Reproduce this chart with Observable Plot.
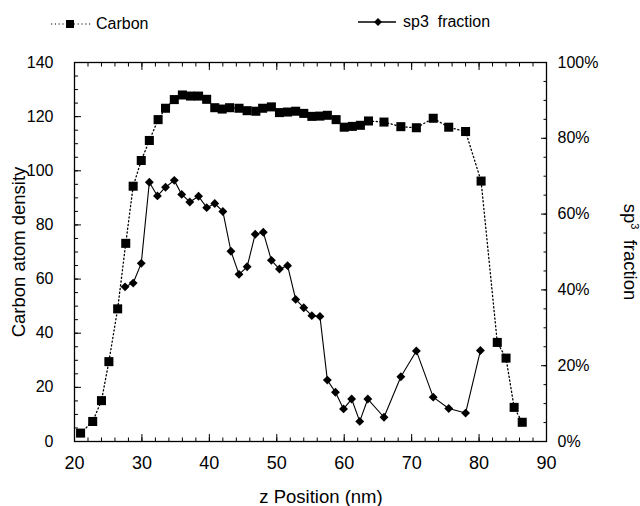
<!DOCTYPE html>
<html>
<head>
<meta charset="utf-8">
<script src="https://cdn.jsdelivr.net/npm/d3@7"></script>
<script src="https://cdn.jsdelivr.net/npm/@observablehq/plot@0.6"></script>
<style>
  html, body { margin: 0; padding: 0; background: #fff; }
  #wrap { position: relative; width: 640px; height: 506px; font-family: "Liberation Sans", Arial, sans-serif; color: #000; }
  .lab { position: absolute; white-space: nowrap; line-height: 1; }
  .leg { position: absolute; display: flex; align-items: center; white-space: nowrap; font-size: 16px; }
</style>
</head>
<body>
<div id="wrap"></div>
<script>
// ---- data ----
const carbonZ = [20.9,22.7,24.0,25.1,26.4,27.6,28.7,29.9,31.1,32.4,33.5,34.8,36.0,37.2,38.4,39.6,40.8,41.9,43.0,44.4,45.6,46.9,47.9,49.2,50.4,51.6,52.8,54.0,55.2,56.4,57.5,58.8,60.0,61.2,62.4,63.6,65.9,68.4,70.7,73.2,75.5,78.0,80.3,82.7,84.0,85.2,86.4];
const carbonDensity = [3.1,7.4,15.1,29.5,49.0,73.2,94.3,103.8,111.2,118.9,123.1,126.3,128.0,127.6,127.6,126.4,123.3,122.8,123.3,123.1,122.2,122.0,123.1,123.6,121.5,121.7,122.0,121.2,120.1,120.2,120.5,118.9,116.1,116.4,116.8,118.4,118.0,116.3,115.9,119.4,116.1,114.5,96.2,36.6,30.8,12.6,7.1];
const sp3Z = [27.5,28.7,29.9,31.1,32.3,33.5,34.8,35.9,37.1,38.4,39.6,40.8,42.0,43.2,44.4,45.6,46.8,48.0,49.2,50.4,51.6,52.8,54.0,55.2,56.4,57.5,58.7,59.9,61.1,62.3,63.5,65.9,68.4,70.7,73.2,75.5,78.0,80.2];
const sp3Pct = [40.8,41.8,47.0,68.4,64.8,67.1,68.9,65.2,63.2,64.7,61.7,62.8,60.7,50.2,44.1,46.1,54.7,55.2,47.8,45.5,46.4,37.5,35.3,33.2,33.0,16.2,13.0,8.6,11.2,5.3,11.2,6.4,17.1,23.9,11.7,8.7,7.5,24.0];

const xTickLabels = [20,30,40,50,60,70,80,90];
const yTickLabels = [0,20,40,60,80,100,120,140];
const pctTickLabels = [0,20,40,60,80,100];

// secondary axis: 100% maps onto density 140
const PCT_TO_Y = 140 / 100;

const carbon = carbonZ.map((z, i) => ({z, v: carbonDensity[i]}));
const sp3 = sp3Z.map((z, i) => ({z, v: sp3Pct[i] * PCT_TO_Y}));

const xMinor = d3.range(20, 90.01, 2);
const yMinor = d3.range(0, 140.01, 5);
const pctMinor = d3.range(0, 100.01, 5).map(p => p * PCT_TO_Y);
const pctMajor = pctTickLabels.map(p => p * PCT_TO_Y);

const plot = Plot.plot({
  width: 640,
  height: 506,
  marginLeft: 74,
  marginRight: 94,
  marginTop: 62,
  marginBottom: 65,
  style: {fontFamily: "'Liberation Sans', Arial, sans-serif", fontSize: "16px", color: "#000", background: "#fff", overflow: "visible"},
  x: {domain: [20, 90], axis: null},
  y: {domain: [0, 140], axis: null},
  marks: [
    // bottom axis labels + inward ticks
    Plot.axisX({anchor: "bottom", ticks: xTickLabels, tickSize: 0, tickPadding: 15, fontSize: 18, label: null}),
    Plot.axisX({anchor: "bottom", ticks: xTickLabels, tickSize: -7, tickFormat: () => "", label: null}),
    Plot.axisX({anchor: "bottom", ticks: xMinor, tickSize: -3.5, tickFormat: () => "", label: null}),
    // top inward ticks
    Plot.axisX({anchor: "top", ticks: xTickLabels, tickSize: -7, tickFormat: () => "", label: null}),
    Plot.axisX({anchor: "top", ticks: xMinor, tickSize: -3.5, tickFormat: () => "", label: null}),
    // left axis
    Plot.axisY({anchor: "left", ticks: yTickLabels, tickSize: 0, tickPadding: 21, fontSize: 16, label: null}),
    Plot.axisY({anchor: "left", ticks: yTickLabels, tickSize: -7, tickFormat: () => "", label: null}),
    Plot.axisY({anchor: "left", ticks: yMinor, tickSize: -4, tickFormat: () => "", label: null}),
    // right axis (sp3 fraction)
    Plot.axisY({anchor: "right", ticks: pctMajor, tickSize: 0, tickPadding: 11, fontSize: 16,
      tickFormat: d => Math.round(d / PCT_TO_Y) + "%", label: null}),
    Plot.axisY({anchor: "right", ticks: pctMajor, tickSize: -6, tickFormat: () => "", label: null}),
    Plot.axisY({anchor: "right", ticks: pctMinor, tickSize: -3.5, tickFormat: () => "", label: null}),
    Plot.frame({stroke: "#000", strokeWidth: 1.3}),
    // carbon density
    Plot.line(carbon, {x: "z", y: "v", stroke: "#000", strokeWidth: 1.3, strokeDasharray: "1.2,2.6"}),
    Plot.dot(carbon, {x: "z", y: "v", symbol: "square", r: 5.1, fill: "#000", stroke: "none"}),
    // sp3 fraction
    Plot.line(sp3, {x: "z", y: "v", stroke: "#000", strokeWidth: 1.1}),
    Plot.dot(sp3, {x: "z", y: "v", symbol: "diamond2", r: 4, fill: "#000", stroke: "none"})
  ]
});

const wrap = document.getElementById("wrap");
plot.style.position = "absolute";
plot.style.left = "0";
plot.style.top = "0";
wrap.appendChild(plot);

function addLabel(text, cx, cy, rot, size, html) {
  const d = document.createElement("div");
  d.className = "lab";
  if (html) d.innerHTML = text; else d.textContent = text;
  d.style.left = cx + "px";
  d.style.top = cy + "px";
  d.style.fontSize = size + "px";
  d.style.transform = `translate(-50%,-50%) rotate(${rot}deg)`;
  wrap.appendChild(d);
}
addLabel("Carbon atom density", 19, 252, -90, 18.5);
addLabel("z Position (nm)", 321, 497, 0, 18.5);
addLabel("sp<sup style=\"font-size:11px;vertical-align:7px\">3</sup>&nbsp; fraction", 630, 252, 90, 18.5, true);

// legend
function addLegend(left, top, svgInner, text) {
  const d = document.createElement("div");
  d.className = "leg";
  d.style.left = left + "px";
  d.style.top = top + "px";
  d.innerHTML = `<svg width="42" height="14" style="margin-right:3px">${svgInner}</svg><span>${text}</span>`;
  wrap.appendChild(d);
}
addLegend(51, 15,
  `<line x1="0" y1="7" x2="40" y2="7" stroke="#000" stroke-width="1.2" stroke-dasharray="1.2,2.6"/><rect x="15" y="3" width="8" height="8" fill="#000"/>`,
  "Carbon");
addLegend(358, 13,
  `<line x1="0" y1="7" x2="38" y2="7" stroke="#000" stroke-width="1.3"/><path d="M20 3 L24 7 L20 11 L16 7 Z" fill="#000"/>`,
  "sp3&nbsp; fraction");
</script>
</body>
</html>
